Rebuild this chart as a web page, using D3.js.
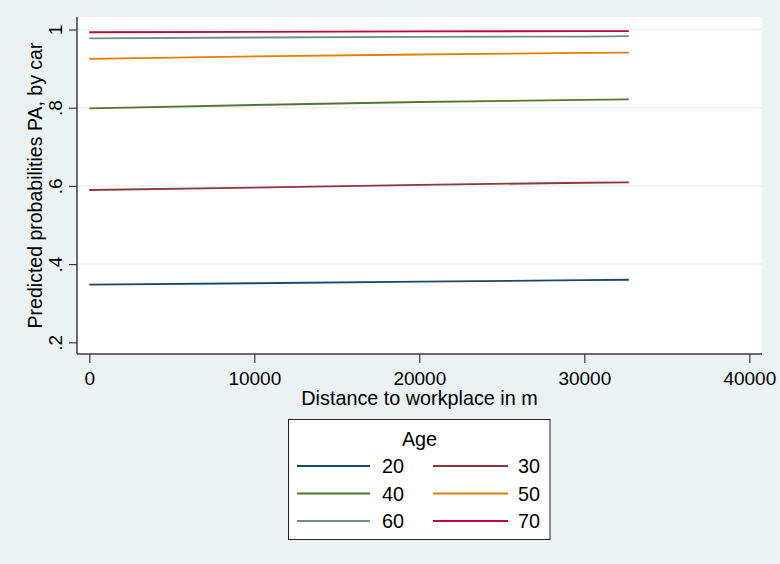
<!DOCTYPE html>
<html>
<head>
<meta charset="utf-8">
<script src="https://cdn.jsdelivr.net/npm/d3@7"></script>
<style>
  html, body { margin: 0; padding: 0; background: #EAF2F3; }
  svg { display: block; font-family: "Liberation Sans", Arial, sans-serif; }
</style>
</head>
<body>
<svg id="chart" width="780" height="564"></svg>
<script>
// Distance to workplace (m) at which predictions are shown
const distances = [0, 10000, 20000, 30000, 32700];

// Predicted probability of commuting by car, by age group
const ages = ["20", "30", "40", "50", "60", "70"];
const age20 = [0.3473, 0.351, 0.355, 0.359, 0.360];
const age30 = [0.5895, 0.5958, 0.6027, 0.608, 0.609];
const age40 = [0.7985, 0.8069, 0.8146, 0.820, 0.8215];
const age50 = [0.925, 0.9315, 0.936, 0.940, 0.941];
const age60 = [0.9775, 0.9795, 0.981, 0.982, 0.983];
const age70 = [0.993, 0.994, 0.995, 0.996, 0.996];
const seriesValues = [age20, age30, age40, age50, age60, age70];

const xTicks = [0, 10000, 20000, 30000, 40000];
const yTicks = [0.2, 0.4, 0.6, 0.8, 1];
const yTickLabels = [".2", ".4", ".6", ".8", "1"];

const colors = ["#1A476F", "#90353B", "#55752F", "#E37E00", "#6E8E84", "#C10534"];

const svg = d3.select("#chart");
const W = 780, H = 564;
const plot = { left: 77, right: 762, top: 17, bottom: 354 };
const tickFont = "19px", titleFont = "19.8px";

svg.append("rect").attr("width", W).attr("height", H).attr("fill", "#EAF2F3");

// white plot region
svg.append("rect")
  .attr("x", plot.left).attr("y", plot.top)
  .attr("width", plot.right - plot.left).attr("height", plot.bottom - plot.top)
  .attr("fill", "#ffffff");

const x = d3.scaleLinear().domain([0, 40000]).range([89.3, 749.3]);
const y = d3.scaleLinear().domain([0.2, 1]).range([342.3, 29.5]);

// horizontal grid lines
svg.append("g").selectAll("line")
  .data(yTicks.filter(v => v > 0.2))
  .join("line")
  .attr("x1", plot.left).attr("x2", plot.right)
  .attr("y1", d => y(d)).attr("y2", d => y(d))
  .attr("stroke", "#EAF2F3").attr("stroke-width", 1.5);

// prediction lines
const line = d3.line()
  .x((d, i) => x(distances[i]))
  .y(d => y(d));

svg.append("g").selectAll("path")
  .data(seriesValues)
  .join("path")
  .attr("d", d => line(d))
  .attr("fill", "none")
  .attr("stroke", (d, i) => colors[i])
  .attr("stroke-width", 1.8);

// y axis
const yAxis = d3.axisLeft(y)
  .tickValues(yTicks)
  .tickFormat((d, i) => yTickLabels[i])
  .tickSize(8)
  .tickSizeOuter(0);
const gy = svg.append("g").attr("transform", `translate(${plot.left},0)`).call(yAxis);
gy.select(".domain").remove();
gy.append("line")
  .attr("x1", 0).attr("x2", 0).attr("y1", plot.top).attr("y2", plot.bottom)
  .attr("stroke", "#3a3a3a").attr("stroke-width", 1.5);
gy.selectAll(".tick line").attr("stroke", "#3a3a3a").attr("stroke-width", 1.2);
gy.selectAll(".tick text")
  .attr("x", null).attr("dy", null)
  .attr("transform", "translate(-15,0) rotate(-90)")
  .attr("text-anchor", "middle")
  .attr("fill", "#000")
  .style("font-size", tickFont);

// x axis
const xAxis = d3.axisBottom(x)
  .tickValues(xTicks)
  .tickFormat(d3.format("d"))
  .tickSize(9)
  .tickSizeOuter(0);
const gx = svg.append("g").attr("transform", `translate(0,${plot.bottom})`).call(xAxis);
gx.select(".domain").remove();
gx.append("line")
  .attr("x1", plot.left).attr("x2", plot.right).attr("y1", 0).attr("y2", 0)
  .attr("stroke", "#3a3a3a").attr("stroke-width", 1.5);
gx.selectAll(".tick line").attr("stroke", "#3a3a3a").attr("stroke-width", 1.2);
gx.selectAll(".tick text")
  .attr("y", 31).attr("dy", null)
  .attr("fill", "#000")
  .style("font-size", tickFont);

// axis titles
svg.append("text")
  .attr("x", (plot.left + plot.right) / 2).attr("y", 405)
  .attr("text-anchor", "middle")
  .style("font-size", titleFont)
  .text("Distance to workplace in m");

svg.append("text")
  .attr("transform", `translate(42,${(plot.top + plot.bottom) / 2}) rotate(-90)`)
  .attr("text-anchor", "middle")
  .style("font-size", "19.5px")
  .text("Predicted probabilities PA, by car");

// legend
const lg = svg.append("g");
lg.append("rect")
  .attr("x", 288.5).attr("y", 419.5).attr("width", 261.5).attr("height", 120)
  .attr("fill", "#ffffff").attr("stroke", "#222").attr("stroke-width", 1);
lg.append("text")
  .attr("x", 419.5).attr("y", 446)
  .attr("text-anchor", "middle")
  .style("font-size", titleFont)
  .text("Age");

const rowY = [466, 493.5, 521];
const colX = [{ l1: 297, l2: 370, t: 404 }, { l1: 433, l2: 508, t: 540 }];
const items = lg.selectAll("g.item")
  .data(ages)
  .join("g")
  .attr("class", "item")
  .attr("transform", (d, i) => `translate(0,${rowY[Math.floor(i / 2)]})`);
items.append("line")
  .attr("x1", (d, i) => colX[i % 2].l1).attr("x2", (d, i) => colX[i % 2].l2)
  .attr("y1", 0).attr("y2", 0)
  .attr("stroke", (d, i) => colors[i]).attr("stroke-width", 1.8);
items.append("text")
  .attr("x", (d, i) => colX[i % 2].t).attr("y", 7)
  .attr("text-anchor", "end")
  .style("font-size", titleFont)
  .text(d => d);
</script>
</body>
</html>
